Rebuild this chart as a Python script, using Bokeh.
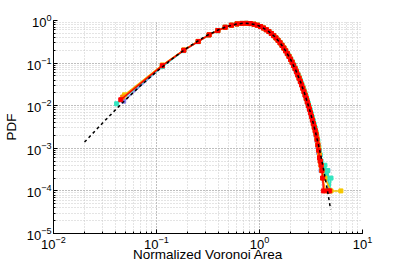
from bokeh.plotting import figure
from bokeh.models import Range1d
from bokeh.embed import file_html
from bokeh.resources import INLINE

# ---------------- data ----------------
x_bins = [0.114, 0.184, 0.254, 0.324, 0.394, 0.464, 0.534, 0.604, 0.674, 0.744,
          0.814, 0.884, 0.954, 1.024, 1.094, 1.164, 1.234, 1.304, 1.374, 1.444,
          1.514, 1.584, 1.654, 1.724, 1.794, 1.864, 1.934, 2.004, 2.074, 2.144,
          2.214, 2.284, 2.354, 2.424, 2.494, 2.564, 2.634, 2.704, 2.774, 2.844,
          2.914, 2.984, 3.054, 3.124, 3.194, 3.264, 3.334, 3.404, 3.474]

# purple series
head_purple = (0.048, 0.0128)
body_purple = [0.084, 0.199, 0.322, 0.462, 0.582, 0.695, 0.777, 0.833, 0.858, 0.862,
               0.848, 0.815, 0.772, 0.721, 0.665, 0.606, 0.549, 0.493, 0.440, 0.389,
               0.341, 0.299, 0.259, 0.224, 0.193, 0.166, 0.142, 0.121, 0.103, 0.0870,
               0.0735, 0.0620, 0.0521, 0.0437, 0.0366, 0.0306, 0.0255, 0.0212, 0.0176, 0.0146,
               0.0121, 0.0099, 0.0082, 0.0068, 0.0056, 0.0046, 0.0038, 0.0031, 0.0025]
tail_x_purple = [3.544, 3.614, 3.684, 3.754, 3.824, 3.894, 3.964, 4.104, 4.244, 4.594, 4.664]
tail_y_purple = [2.0e-3, 1.5e-3, 1.1e-3, 8e-4, 6e-4, 5e-4, 3e-4, 3e-4, 2e-4, 3e-4, 1e-4]

# cyan series
head_cyan = (0.041, 0.0111)
body_cyan = [0.083, 0.196, 0.318, 0.455, 0.576, 0.690, 0.772, 0.829, 0.855, 0.861,
             0.848, 0.818, 0.776, 0.726, 0.671, 0.613, 0.556, 0.500, 0.447, 0.396,
             0.348, 0.306, 0.266, 0.231, 0.200, 0.172, 0.148, 0.127, 0.109, 0.0920,
             0.0785, 0.0665, 0.0562, 0.0474, 0.0398, 0.0334, 0.0279, 0.0233, 0.0194, 0.0162,
             0.0135, 0.0112, 0.0093, 0.0077, 0.0064, 0.0053, 0.0044, 0.0036, 0.0030]
tail_x_cyan = [3.544, 3.614, 3.684, 3.754, 3.824, 3.894, 3.964, 4.034, 4.174, 4.314,
               4.454, 4.594, 4.804, 4.944]
tail_y_cyan = [2.4e-3, 1.9e-3, 1.5e-3, 1.1e-3, 9e-4, 7e-4, 5e-4, 4e-4, 3e-4, 4e-4,
               2e-4, 3e-4, 1e-4, 2e-4]

# yellow series
head_yellow = (0.049, 0.0180)
body_yellow = [0.090, 0.203, 0.324, 0.462, 0.581, 0.693, 0.775, 0.830, 0.855, 0.861,
               0.848, 0.817, 0.775, 0.724, 0.668, 0.609, 0.552, 0.496, 0.442, 0.391,
               0.344, 0.302, 0.262, 0.227, 0.196, 0.169, 0.145, 0.124, 0.106, 0.0890,
               0.0755, 0.0637, 0.0536, 0.0451, 0.0377, 0.0316, 0.0263, 0.0219, 0.0182, 0.0151,
               0.0125, 0.0103, 0.0085, 0.0070, 0.0058, 0.0048, 0.0039, 0.0032, 0.0027]
tail_x_yellow = [3.544, 3.614, 3.684, 3.754, 3.824, 3.894, 3.964, 4.034, 4.314, 4.944, 6.17]
tail_y_yellow = [2.2e-3, 1.7e-3, 1.3e-3, 1.0e-3, 7e-4, 5e-4, 4e-4, 3e-4, 2e-4, 1e-4, 1e-4]

# orange series
head_orange = (0.047, 0.0160)
body_orange = [0.089, 0.202, 0.322, 0.461, 0.580, 0.692, 0.775, 0.831, 0.856, 0.862,
               0.848, 0.816, 0.774, 0.723, 0.667, 0.608, 0.551, 0.495, 0.441, 0.390,
               0.343, 0.301, 0.261, 0.226, 0.195, 0.168, 0.144, 0.123, 0.105, 0.0880,
               0.0745, 0.0628, 0.0529, 0.0445, 0.0371, 0.0311, 0.0259, 0.0215, 0.0179, 0.0149,
               0.0123, 0.0101, 0.0084, 0.0069, 0.0057, 0.0047, 0.0038, 0.0032, 0.0026]
tail_x_orange = [3.544, 3.614, 3.684, 3.754, 3.824, 3.894, 3.964, 4.034, 4.104, 4.384]
tail_y_orange = [2.2e-3, 1.7e-3, 1.2e-3, 9e-4, 7e-4, 5e-4, 4e-4, 3e-4, 2e-4, 1e-4]

# red series
head_red = (0.045, 0.0138)
body_red = [0.087, 0.200, 0.321, 0.460, 0.580, 0.693, 0.776, 0.832, 0.857, 0.863,
            0.849, 0.817, 0.774, 0.723, 0.667, 0.608, 0.551, 0.495, 0.441, 0.390,
            0.342, 0.300, 0.260, 0.225, 0.194, 0.167, 0.143, 0.122, 0.104, 0.0875,
            0.0740, 0.0624, 0.0525, 0.0441, 0.0368, 0.0308, 0.0256, 0.0213, 0.0177, 0.0147,
            0.0122, 0.0100, 0.0083, 0.0068, 0.0056, 0.0046, 0.0038, 0.0031, 0.0026]
tail_x_red = [3.544, 3.614, 3.684, 3.754, 3.824, 3.894, 3.964, 4.034, 4.104, 4.174, 4.664, 4.804]
tail_y_red = [2.1e-3, 1.6e-3, 1.2e-3, 9e-4, 6e-4, 5e-4, 4e-4, 3e-4, 2e-4, 1e-4, 1e-4, 1e-4]

# dashed fit curve
fit_x = [0.02, 0.03, 0.045, 0.07, 0.1, 0.15, 0.2, 0.3, 0.4, 0.5, 0.6, 0.7, 0.8, 0.9,
         1.0, 1.2, 1.4, 1.6, 1.8, 2.0, 2.25, 2.5, 2.75, 3.0, 3.25, 3.5, 3.75, 4.0,
         4.25, 4.5, 4.75, 4.9]
fit_y = [1.40e-3, 3.94e-3, 0.0107, 0.0296, 0.0627, 0.140, 0.231, 0.431, 0.607, 0.738,
         0.828, 0.863, 0.851, 0.805, 0.741, 0.578, 0.422, 0.290, 0.191, 0.123, 0.0678,
         0.0363, 0.0189, 9.6e-3, 4.83e-3, 2.38e-3, 1.16e-3, 5.56e-4, 2.64e-4, 1.25e-4,
         5.86e-5, 3.69e-5]

series = [
    ("#7f7fe6", head_purple, body_purple, tail_x_purple, tail_y_purple),
    ("#33e6c0", head_cyan, body_cyan, tail_x_cyan, tail_y_cyan),
    ("#f5c800", head_yellow, body_yellow, tail_x_yellow, tail_y_yellow),
    ("#ff8c00", head_orange, body_orange, tail_x_orange, tail_y_orange),
    ("#ff0000", head_red, body_red, tail_x_red, tail_y_red),
]

FONT = "Liberation Sans"

p = figure(width=399, height=266, x_axis_type="log", y_axis_type="log",
           x_range=Range1d(1e-2, 10), y_range=Range1d(1e-5, 1),
           output_backend="svg", toolbar_location=None,
           min_border_left=52, min_border_right=37, min_border_top=20,
           min_border_bottom=33)
p.outline_line_color = None
p.background_fill_color = "white"
p.border_fill_color = "white"

for g in (p.xgrid, p.ygrid):
    g.grid_line_color = "#a8a8a8"
    g.grid_line_dash = "1 2"
    g.grid_line_width = 1
    g.minor_grid_line_color = "#c8c8c8"
    g.minor_grid_line_dash = "1 2"
    g.minor_grid_line_width = 1

for ax in (p.xaxis, p.yaxis):
    ax.axis_line_color = "black"
    ax.major_tick_in = 4
    ax.major_tick_out = 0
    ax.minor_tick_in = 2
    ax.minor_tick_out = 0
    ax.major_tick_line_color = "black"
    ax.minor_tick_line_color = "black"
    ax.major_label_text_font = FONT
    ax.major_label_text_font_size = "13px"
    ax.major_label_text_color = "black"
    ax.axis_label_text_font = FONT
    ax.axis_label_text_font_size = "13.5px"
    ax.axis_label_text_font_style = "normal"
    ax.axis_label_text_color = "black"
    ax.major_label_standoff = 2

p.xaxis.axis_label = "Normalized Voronoi Area"
p.xaxis.axis_label_standoff = -5
p.yaxis.axis_label = "PDF"
p.yaxis.axis_label_standoff = 5

for color, head, body, tx, ty in series:
    xs = [head[0]] + x_bins + tx
    ys = [head[1]] + body + ty
    p.line(xs, ys, line_color=color, line_width=1.5)
    p.scatter(xs, ys, marker="square", size=4, fill_color=color, line_color=color)

p.line(fit_x, fit_y, line_color="black", line_width=1.5, line_dash="3 3")

open("out.html", "w").write(file_html(p, INLINE))
